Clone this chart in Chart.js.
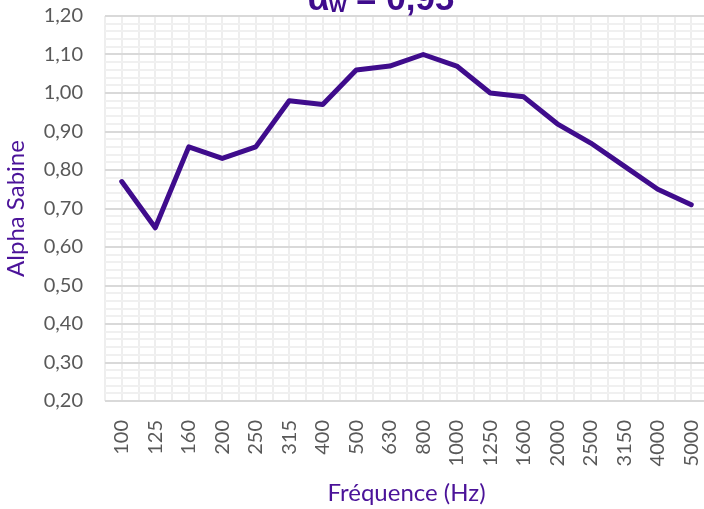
<!DOCTYPE html>
<html>
<head>
<meta charset="utf-8">
<script src="https://cdn.jsdelivr.net/npm/chart.js@4"></script>
<style>
  html, body { margin: 0; padding: 0; background: #fff; overflow: hidden; width: 704px; height: 509px; }
  #wrap { width: 720px; height: 509px; }
</style>
</head>
<body>
<div id="wrap"><canvas id="c" width="720" height="509"></canvas></div>
<script>
const frequencies = ['100','125','160','200','250','315','400','500','630','800','1000','1250','1600','2000','2500','3150','4000','5000'];
const alphaSabine = [0.77,0.65,0.86,0.83,0.86,0.98,0.97,1.06,1.07,1.10,1.07,1.00,0.99,0.92,0.87,0.81,0.75,0.71];
const yMin = 0.20, yMax = 1.20, yMajorStep = 0.10, yMinorStep = 0.02;
const titleMain = 'α', titleSub = 'w', titleRest = ' = 0,95';
const xTitle = 'Fréquence (Hz)';
const yTitle = 'Alpha Sabine';

const PURPLE = '#3f0c8c';
const AXIS_PURPLE = '#4b1399';
const TICK = '#595959';

const points = alphaSabine.map((v, i) => ({x: i, y: v}));

const titlePlugin = {
  id: 'titlePlugin',
  afterDraw(chart) {
    const ctx = chart.ctx;
    ctx.save();
    ctx.fillStyle = PURPLE;
    ctx.textBaseline = 'alphabetic';
    const big = 'bold 35px "Liberation Sans", Arial, sans-serif';
    const small = 'bold 22px "Liberation Sans", Arial, sans-serif';
    ctx.font = big;
    const wA = ctx.measureText(titleMain).width;
    const wR = ctx.measureText(titleRest).width;
    ctx.font = small;
    const wS = ctx.measureText(titleSub).width;
    const total = wA + wS + wR;
    let x = 381 - total / 2;
    const base = 10;
    ctx.font = big; ctx.textAlign = 'left';
    ctx.fillText(titleMain, x, base); x += wA;
    ctx.font = small;
    ctx.fillText(titleSub, x, base + 2); x += wS;
    ctx.font = big;
    ctx.fillText(titleRest, x, base);
    ctx.restore();
  }
};

function zeroPad(scale) {
  scale.paddingTop = 0; scale.paddingBottom = 0;
  scale.paddingLeft = 0; scale.paddingRight = 0;
}

new Chart(document.getElementById('c'), {
  type: 'line',
  data: {
    datasets: [{
      data: points,
      borderColor: PURPLE,
      borderWidth: 5,
      pointRadius: 0,
      fill: false,
      tension: 0,
      borderJoinStyle: 'round',
      borderCapStyle: 'round'
    }]
  },
  options: {
    responsive: false,
    animation: false,
    layout: { padding: { top: 16, right: 12, left: 0, bottom: 0 } },
    plugins: { legend: { display: false }, tooltip: { enabled: false }, title: { display: false } },
    scales: {
      x: {
        type: 'linear',
        min: -0.5,
        max: frequencies.length - 0.5,
        afterBuildTicks(scale) {
          const t = [];
          for (let k = 0; k <= frequencies.length * 2; k++) t.push({ value: -0.5 + k * 0.5 });
          scale.ticks = t;
        },
        afterFit(scale) { scale.height = 108; zeroPad(scale); },
        grid: {
          color: '#eeeeee',
          lineWidth: 2,
          drawTicks: false
        },
        border: { display: false },
        ticks: {
          autoSkip: false,
          minRotation: 90,
          maxRotation: 90,
          padding: 19,
          color: TICK,
          font: { family: 'Lato', size: 20 },
          callback(v) {
            return Number.isInteger(v) ? frequencies[v] : '';
          }
        },
        title: {
          display: true,
          text: xTitle,
          color: AXIS_PURPLE,
          font: { family: 'Lato', size: 24 },
          padding: { top: 0, bottom: 1.5 }
        }
      },
      y: {
        min: yMin,
        max: yMax,
        afterBuildTicks(scale) {
          const n = Math.round((yMax - yMin) / yMinorStep);
          const t = [];
          for (let k = 0; k <= n; k++) t.push({ value: +(yMin + k * yMinorStep).toFixed(2) });
          scale.ticks = t;
        },
        afterFit(scale) { scale.width = 105; zeroPad(scale); },
        grid: {
          drawTicks: false,
          lineWidth: 2,
          color(ctx) {
            const v = ctx.tick ? ctx.tick.value : 0;
            return Math.round(v * 100) % Math.round(yMajorStep * 100) === 0 ? '#d9d9d9' : '#f0f0f0';
          }
        },
        border: { display: false },
        ticks: {
          autoSkip: false,
          padding: 22,
          color: TICK,
          font: { family: 'Lato', size: 20 },
          callback(v) {
            return Math.round(v * 100) % Math.round(yMajorStep * 100) === 0 ? v.toFixed(2).replace('.', ',') : '';
          }
        },
        title: {
          display: true,
          text: yTitle,
          color: AXIS_PURPLE,
          font: { family: 'Lato', size: 24 },
          padding: { top: 2, bottom: 0 }
        }
      }
    }
  },
  plugins: [titlePlugin]
});
</script>
</body>
</html>
